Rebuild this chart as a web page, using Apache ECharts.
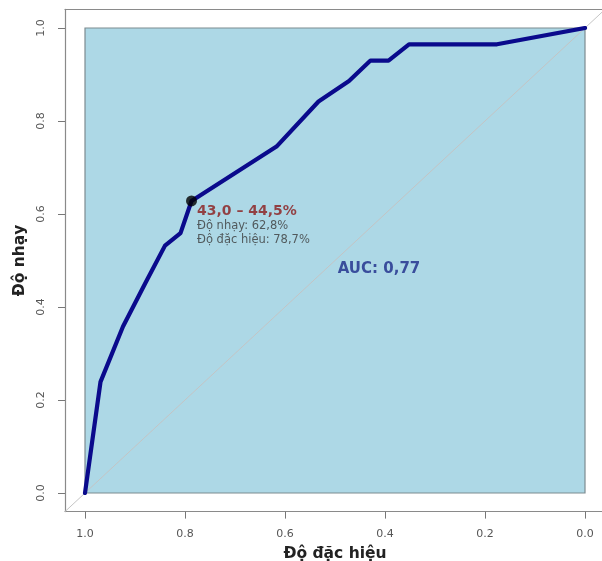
<!DOCTYPE html>
<html>
<head>
<meta charset="utf-8">
<script src="https://cdn.jsdelivr.net/npm/echarts@6/dist/echarts.min.js"></script>
<style>html,body{margin:0;padding:0;background:#fff}#c{width:602px;height:561px}</style>
</head>
<body>
<div id="c"></div>
<script>
// ROC curve: specificity (x, reversed) vs sensitivity (y)
const specificity = [1.000, 0.969, 0.924, 0.880, 0.840, 0.809, 0.787, 0.617, 0.533, 0.472, 0.429, 0.393, 0.352, 0.176, 0.000];
const sensitivity = [0.000, 0.239, 0.358, 0.450, 0.532, 0.559, 0.628, 0.745, 0.842, 0.886, 0.930, 0.930, 0.965, 0.965, 1.000];
const cutSpec = 0.787, cutSens = 0.628;
const cutLabel = '43,0 – 44,5%';
const cutSensText = 'Độ nhạy: 62,8%';
const cutSpecText = 'Độ đặc hiệu: 78,7%';
const aucText = 'AUC: 0,77';
const aucPos = [0.412, 0.482];
const tickValues = [0, 0.2, 0.4, 0.6, 0.8, 1.0];
const diagSpec = [1.04, -0.04];
const xName = 'Độ đặc hiệu', yName = 'Độ nhạy';

const font = 'DejaVu Sans, Liberation Sans, Arial, sans-serif';
const chart = echarts.init(document.getElementById('c'), null, {renderer: 'canvas'});
const curve = specificity.map((s, i) => [s, sensitivity[i]]);
const diag = diagSpec.map(s => [s, 1 - s]);
const boxLine = {show: true, onZero: false, lineStyle: {color: '#8a8a8a', width: 1.2}};

chart.setOption({
  animation: false,
  textStyle: {fontFamily: font},
  grid: [
    {left: 65, width: 540, top: 9.4, height: 502.2, show: false, containLabel: false, outerBoundsMode: 'none'},
    {left: 85, width: 500, top: 28, height: 465, show: true, borderColor: '#7d8b90', borderWidth: 1.2,
     backgroundColor: '#add8e6', containLabel: false, outerBoundsMode: 'none'}
  ],
  xAxis: [
    {gridIndex: 0, type: 'value', min: -0.04, max: 1.04, inverse: true, position: 'bottom',
     axisLine: boxLine, splitLine: {show: false},
     axisTick: {show: true, length: 7, customValues: tickValues, lineStyle: {color: '#777', width: 1}},
     axisLabel: {show: true, margin: 17, customValues: tickValues, color: '#555', fontSize: 11, fontFamily: font, formatter: v => v.toFixed(1)},
     name: xName, nameLocation: 'middle', nameGap: 34.5,
     nameTextStyle: {fontSize: 15.5, fontWeight: 'bold', color: '#222', fontFamily: font}},
    {gridIndex: 1, type: 'value', min: 0, max: 1, inverse: true, show: false},
    {gridIndex: 0, type: 'value', min: -0.04, max: 1.04, inverse: true, position: 'top',
     axisLine: boxLine, axisTick: {show: false}, axisLabel: {show: false}, splitLine: {show: false}}
  ],
  yAxis: [
    {gridIndex: 0, type: 'value', min: -0.04, max: 1.04, position: 'left',
     axisLine: boxLine, splitLine: {show: false},
     axisTick: {show: true, length: 7, customValues: tickValues, lineStyle: {color: '#777', width: 1}},
     axisLabel: {show: true, margin: 18, rotate: 90, customValues: tickValues, color: '#555', fontSize: 11, fontFamily: font, formatter: v => v.toFixed(1)},
     name: yName, nameLocation: 'middle', nameGap: 37, nameRotate: 90,
     nameTextStyle: {fontSize: 15.5, fontWeight: 'bold', color: '#222', fontFamily: font}},
    {gridIndex: 1, type: 'value', min: 0, max: 1, show: false}
  ],
  series: [
    {type: 'line', xAxisIndex: 0, yAxisIndex: 0, data: diag, symbol: 'none', silent: true,
     lineStyle: {color: '#c4c4c4', width: 1}, z: 2},
    {type: 'line', xAxisIndex: 1, yAxisIndex: 1, data: curve, symbol: 'none', silent: true,
     lineStyle: {color: '#0a0a8c', width: 4.2, join: 'round', cap: 'round'}, z: 3},
    {type: 'scatter', xAxisIndex: 1, yAxisIndex: 1, data: [[cutSpec, cutSens]], symbolSize: 11,
     itemStyle: {color: '#000'}, z: 4,
     label: {show: true, position: [11, 7], align: 'left', verticalAlign: 'top',
       formatter: '{a|' + cutLabel + '}\n{b|' + cutSensText + '}\n{b|' + cutSpecText + '}',
       rich: {
         a: {fontSize: 14, fontWeight: 'bold', color: '#8b1a1a', lineHeight: 17, fontFamily: font},
         b: {fontSize: 11.5, color: '#3a3a3a', lineHeight: 13.5, fontFamily: font}
       }}},
    {type: 'scatter', xAxisIndex: 1, yAxisIndex: 1, data: [aucPos], symbolSize: 1,
     itemStyle: {color: 'rgba(0,0,0,0)'}, z: 4,
     label: {show: true, position: 'inside', formatter: aucText,
       fontSize: 15, fontWeight: 'bold', color: '#1c2a8a', fontFamily: font}}
  ]
});
</script>
</body>
</html>
